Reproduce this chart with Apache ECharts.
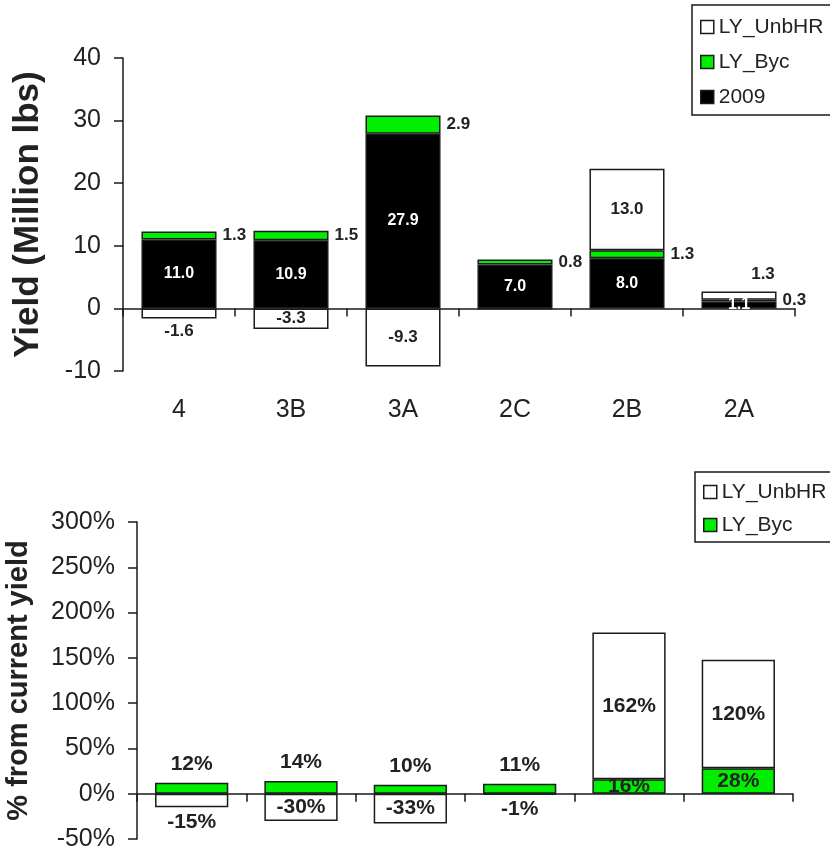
<!DOCTYPE html>
<html>
<head>
<meta charset="utf-8">
<script src="https://cdn.jsdelivr.net/npm/echarts@6/dist/echarts.min.js"></script>
<style>
html,body{margin:0;padding:0;background:#fff;}
#chart{width:830px;height:852px;}
</style>
</head>
<body>
<div id="chart"></div>
<script>
// ---- data ----
const categories = ['4', '3B', '3A', '2C', '2B', '2A'];
const yield2009 = [11.0, 10.9, 27.9, 7.0, 8.0, 1.1];
const yieldByc = [1.3, 1.5, 2.9, 0.8, 1.3, 0.3];
const yieldUnbHR = [-1.6, -3.3, -9.3, -0.1, 13.0, 1.3];
const pctByc = [12, 14, 10, 11, 16, 28];
const pctUnbHR = [-15, -30, -33, -1, 162, 120];
const yieldTicks = { min: -10, max: 40, interval: 10 };
const pctTicks = { min: -50, max: 300, interval: 50 };

// ---- styling ----
const FONT = '"Liberation Sans", Arial, sans-serif';
const TXT = '#222';
const GREEN = '#00ee00';
const BORDER = { borderColor: '#1a1a1a', borderWidth: 1.5 };

const chart = echarts.init(document.getElementById('chart'), null, { renderer: 'canvas' });

function fmt1(v) { return v.toFixed(1); }

const top2009 = yield2009.map(v => ({
  value: v,
  label: { show: true, position: 'inside', color: '#fff', fontWeight: 'bold', fontSize: 16, formatter: fmt1(v) }
}));
const topByc = yieldByc.map(v => ({
  value: v,
  label: { show: true, position: 'right', distance: 6, color: TXT, fontWeight: 'bold', fontSize: 17, formatter: fmt1(v) }
}));
const topUnb = yieldUnbHR.map(v => {
  let label;
  if (Math.abs(v) < 0.5) label = { show: false };
  else if (v < 0 && Math.abs(v) < 2.5) label = { show: true, position: 'bottom', distance: 4 };
  else if (v > 0 && v < 2.5) label = { show: true, position: 'top', offset: [24, -4] };
  else label = { show: true, position: 'inside' };
  label.color = TXT; label.fontWeight = 'bold'; label.fontSize = 17; label.formatter = fmt1(v);
  return { value: v, label };
});

const botByc = pctByc.map((v, i) => ({
  value: v,
  label: { show: true, position: pctUnbHR[i] > 0 ? 'inside' : 'top', distance: 8, color: TXT, fontWeight: 'bold', fontSize: 21, formatter: v + '%' }
}));
const botUnb = pctUnbHR.map(v => ({
  value: v,
  label: { show: true, position: (v < 0 && Math.abs(v) < 20) ? 'bottom' : 'inside', distance: 4, color: TXT, fontWeight: 'bold', fontSize: 21, formatter: v + '%' }
}));

const yAxisCommon = {
  type: 'value',
  axisLine: { show: true, lineStyle: { color: '#1a1a1a', width: 1.5 } },
  axisTick: { show: true, length: 9, lineStyle: { color: '#1a1a1a', width: 1.5 } },
  splitLine: { show: false },
  nameLocation: 'middle',
  nameRotate: 90
};
const xAxisCommon = {
  type: 'category',
  data: categories,
  axisLine: { show: true, onZero: true, lineStyle: { color: '#1a1a1a', width: 1.5 } },
  axisTick: { show: true, length: 8, alignWithLabel: false, lineStyle: { color: '#1a1a1a', width: 1.5 } },
  splitLine: { show: false }
};
const legendCommon = {
  orient: 'vertical',
  icon: 'rect', itemWidth: 13, itemHeight: 13,
  borderColor: '#1a1a1a', borderWidth: 1.5, backgroundColor: '#fff',
  textStyle: { color: TXT, fontSize: 21, fontFamily: FONT, lineHeight: 22 },
  itemStyle: { borderColor: '#1a1a1a', borderWidth: 1.5 }
};

const option = {
  animation: false,
  backgroundColor: '#fff',
  textStyle: { fontFamily: FONT },
  grid: [
    { left: 123, right: 35, top: 58, height: 313, outerBoundsMode: 'none' },
    { left: 137, right: 37, top: 522, height: 317, outerBoundsMode: 'none' }
  ],
  legend: [
    Object.assign({}, legendCommon, {
      data: ['LY_UnbHR', 'LY_Byc', '2009'],
      left: 692, top: 5, itemGap: 13, padding: [11, 8, 7, 8]
    }),
    Object.assign({}, legendCommon, {
      data: ['LY_UnbHR ', 'LY_Byc '],
      left: 695, top: 472, itemGap: 11, padding: [9, 8, 6, 8]
    })
  ],
  xAxis: [
    Object.assign({}, xAxisCommon, {
      gridIndex: 0,
      axisLabel: { show: true, color: TXT, fontFamily: FONT, fontSize: 25, margin: 27 }
    }),
    Object.assign({}, xAxisCommon, {
      gridIndex: 1,
      axisLabel: { show: false }
    })
  ],
  yAxis: [
    Object.assign({}, yAxisCommon, {
      gridIndex: 0,
      min: yieldTicks.min, max: yieldTicks.max, interval: yieldTicks.interval,
      name: 'Yield (Million lbs)', nameGap: 77,
      nameTextStyle: { fontFamily: FONT, fontWeight: 'bold', color: TXT, fontSize: 35 },
      axisLabel: { color: TXT, fontFamily: FONT, margin: 22, fontSize: 25 }
    }),
    Object.assign({}, yAxisCommon, {
      gridIndex: 1,
      min: pctTicks.min, max: pctTicks.max, interval: pctTicks.interval,
      name: '% from current yield', nameGap: 104,
      nameTextStyle: { fontFamily: FONT, fontWeight: 'bold', color: TXT, fontSize: 29 },
      axisLabel: { color: TXT, fontFamily: FONT, margin: 22, fontSize: 25, formatter: '{value}%' }
    })
  ],
  series: [
    {
      name: '2009', type: 'bar', stack: 'top', xAxisIndex: 0, yAxisIndex: 0,
      barWidth: '67%', data: top2009,
      itemStyle: Object.assign({ color: '#000' }, BORDER)
    },
    {
      name: 'LY_Byc', type: 'bar', stack: 'top', xAxisIndex: 0, yAxisIndex: 0,
      barWidth: '67%', data: topByc,
      itemStyle: Object.assign({ color: GREEN }, BORDER)
    },
    {
      name: 'LY_UnbHR', type: 'bar', stack: 'top', xAxisIndex: 0, yAxisIndex: 0,
      barWidth: '67%', data: topUnb,
      itemStyle: Object.assign({ color: '#fff' }, BORDER)
    },
    {
      name: 'LY_Byc ', type: 'bar', stack: 'bot', xAxisIndex: 1, yAxisIndex: 1,
      barWidth: '67%', data: botByc,
      itemStyle: Object.assign({ color: GREEN }, BORDER)
    },
    {
      name: 'LY_UnbHR ', type: 'bar', stack: 'bot', xAxisIndex: 1, yAxisIndex: 1,
      barWidth: '67%', data: botUnb,
      itemStyle: Object.assign({ color: '#fff' }, BORDER)
    }
  ]
};
chart.setOption(option);
</script>
</body>
</html>
